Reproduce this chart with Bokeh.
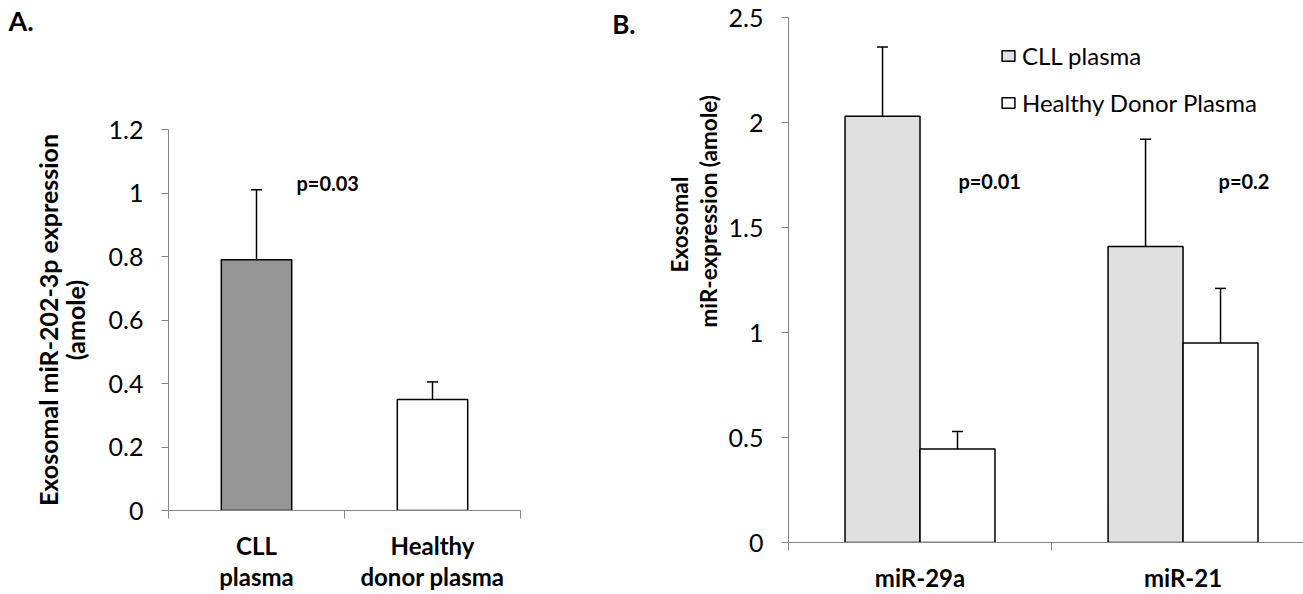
from bokeh.plotting import figure
from bokeh.models import (ColumnDataSource, FixedTicker, NumeralTickFormatter, Whisker,
                          TeeHead, Label, LabelSet, Legend, LegendItem, Range1d, Title,
                          LinearAxis)
from bokeh.layouts import row
from bokeh.embed import file_html
from bokeh.resources import INLINE
from bokeh.core.properties import value

FONT = "Lato"
AXIS = "#868686"

# ---------------- data: panel A ----------------
a_categories = ["CLL\nplasma", "Healthy\ndonor plasma"]
a_values = [0.79, 0.35]
a_errors = [0.22, 0.055]
a_colors = ["#969696", "#ffffff"]
a_pvalue = "p=0.03"
a_yticks = [0, 0.2, 0.4, 0.6, 0.8, 1.0, 1.2]
a_ylabel = "Exosomal miR-202-3p expression\n(amole)"

# ---------------- data: panel B ----------------
b_categories = ["miR-29a", "miR-21"]
b_series = ["CLL plasma", "Healthy Donor Plasma"]
b_cll_values = [2.03, 1.41]
b_cll_errors = [0.33, 0.51]
b_hd_values = [0.445, 0.95]
b_hd_errors = [0.083, 0.26]
b_colors = ["#e0e0e0", "#ffffff"]
b_pvalues = ["p=0.01", "p=0.2"]
b_yticks = [0, 0.5, 1, 1.5, 2, 2.5]
b_ylabel_lines = ["Exosomal", "miR-expression (amole)"]


def style(p, yticks, labels):
    p.xgrid.visible = False
    p.ygrid.visible = False
    p.outline_line_color = None
    p.background_fill_color = "white"
    p.border_fill_color = "white"
    xa = p.xaxis[0]
    xa.ticker = FixedTicker(ticks=[i + 0.5 for i in range(len(labels))], minor_ticks=[0, 1, 2])
    xa.major_label_overrides = {i + 0.5: lab for i, lab in enumerate(labels)}
    xa.major_label_text_font = FONT
    xa.major_label_text_font_style = "bold"
    xa.major_label_text_font_size = "24px"
    xa.major_label_text_color = "black"
    xa.axis_line_color = AXIS
    xa.major_tick_line_color = None
    xa.major_tick_out = 0
    xa.major_tick_in = 0
    xa.minor_tick_line_color = AXIS
    xa.minor_tick_out = 8
    xa.minor_tick_in = 0
    ya = p.yaxis[0]
    ya.ticker = FixedTicker(ticks=yticks, minor_ticks=[])
    ya.formatter = NumeralTickFormatter(format="0.[0]")
    ya.axis_line_color = AXIS
    ya.major_tick_line_color = AXIS
    ya.major_tick_out = 7
    ya.major_tick_in = 0
    ya.minor_tick_line_color = None
    ya.major_label_text_font = FONT
    ya.major_label_text_font_size = "25px"
    ya.major_label_text_color = "black"
    ya.major_label_standoff = 18


# ---------------- panel A ----------------
pa = figure(width=600, height=594, x_range=Range1d(0, 2), y_range=Range1d(0, 1.2),
            output_backend="svg", toolbar_location=None, title=None,
            min_border_left=168, min_border_right=80, min_border_top=129, min_border_bottom=81)
pa.frame_align = False
style(pa, a_yticks, a_categories)
pa.xaxis.major_label_standoff = 12
pa.xaxis.major_label_text_line_height = 1.1

src_a = ColumnDataSource(dict(
    x=[i + 0.5 for i in range(len(a_categories))],
    top=a_values,
    upper=[v + e for v, e in zip(a_values, a_errors)],
    color=a_colors,
))
pa.vbar(x="x", top="top", width=0.4, fill_color="color", line_color="black",
        line_width=1.5, source=src_a)
pa.add_layout(Whisker(source=src_a, base="x", lower="top", upper="upper", dimension="height",
                      line_color="black", line_width=1.5, lower_head=None,
                      upper_head=TeeHead(size=11, line_color="black", line_width=1.5)))
pa.yaxis.axis_label = a_ylabel
pa.yaxis.axis_label_text_font = FONT
pa.yaxis.axis_label_text_font_style = "bold"
pa.yaxis.axis_label_text_font_size = "25px"
pa.yaxis.axis_label_text_color = "black"
pa.yaxis.axis_label_text_line_height = 0.9
pa.yaxis.axis_label_standoff = 16
pa.add_layout(Label(x=0.727, y=1.03, text=a_pvalue, text_font=FONT, text_font_style="bold",
                    text_font_size="20px", text_baseline="middle", text_align="left",
                    text_color="black"))
# spacer (closest to frame) then the panel letter
pa.add_layout(Title(text=" ", text_font_size="1px", standoff=88), "above")
pa.add_layout(Title(text="A.", align="left", offset=-160, standoff=0, vertical_align="top",
                    text_font=FONT, text_font_style="bold", text_font_size="27px",
                    text_color="black"), "above")

# ---------------- panel B ----------------
pb = figure(width=703, height=594, x_range=Range1d(0, 1.958), y_range=Range1d(0, 2.5),
            output_backend="svg", toolbar_location=None, title=None,
            min_border_left=188, min_border_right=0, min_border_top=17, min_border_bottom=49)
pb.frame_align = False
style(pb, b_yticks, b_categories)
pb.xaxis.major_label_standoff = 12
pb.xaxis.major_label_text_line_height = 1.0

bw = 0.285
centers = [i + 0.5 for i in range(len(b_categories))]
src_cll = ColumnDataSource(dict(
    x=[c - bw / 2 for c in centers], top=b_cll_values,
    upper=[v + e for v, e in zip(b_cll_values, b_cll_errors)]))
src_hd = ColumnDataSource(dict(
    x=[c + bw / 2 for c in centers], top=b_hd_values,
    upper=[v + e for v, e in zip(b_hd_values, b_hd_errors)]))
r_cll = pb.vbar(x="x", top="top", width=bw, fill_color=b_colors[0], line_color="black",
                line_width=1.5, source=src_cll)
r_hd = pb.vbar(x="x", top="top", width=bw, fill_color=b_colors[1], line_color="black",
               line_width=1.5, source=src_hd)
for s in (src_cll, src_hd):
    pb.add_layout(Whisker(source=s, base="x", lower="top", upper="upper", dimension="height",
                          line_color="black", line_width=1.5, lower_head=None,
                          upper_head=TeeHead(size=11, line_color="black", line_width=1.5)))

src_bp = ColumnDataSource(dict(x=[0.646, 1.635], y=[1.72, 1.72], label=b_pvalues))
pb.add_layout(LabelSet(source=src_bp, x="x", y="y", text="label", text_align="left",
                       text_baseline="middle", text_font=value(FONT), text_font_style="bold",
                       text_font_size="20px", text_color="black"))

# y-axis title of panel B: two lines, inner line first
pb.add_layout(Title(text=b_ylabel_lines[1], align="left", offset=215, standoff=4,
                    vertical_align="top", text_font=FONT, text_font_style="bold",
                    text_font_size="22.5px", text_color="black"), "left")
pb.add_layout(Title(text=b_ylabel_lines[0], align="left", offset=270, standoff=0,
                    vertical_align="bottom", text_font=FONT, text_font_style="bold",
                    text_font_size="22.5px", text_color="black"), "left")

b_axis = LinearAxis(ticker=FixedTicker(ticks=[2.47], minor_ticks=[]),
                    major_label_overrides={2.47: "B."}, axis_line_color=None,
                    major_tick_line_color=None, minor_tick_line_color=None,
                    major_tick_out=0, major_tick_in=0,
                    major_label_standoff=28, major_label_text_font=FONT,
                    major_label_text_font_style="bold", major_label_text_font_size="26px",
                    major_label_text_color="black")
pb.add_layout(b_axis, "left")

legend = Legend(items=[LegendItem(label=b_series[0], renderers=[r_cll]),
                       LegendItem(label=b_series[1], renderers=[r_hd])],
                location=(212, 425), orientation="vertical", border_line_color=None,
                background_fill_alpha=0, padding=0, margin=0, spacing=18,
                glyph_width=16, glyph_height=13, label_height=27, label_standoff=6,
                label_text_font=FONT, label_text_font_size="24px", label_text_color="black")
pb.add_layout(legend)

layout = row(pa, pb)
open("out.html", "w").write(file_html(layout, INLINE))
